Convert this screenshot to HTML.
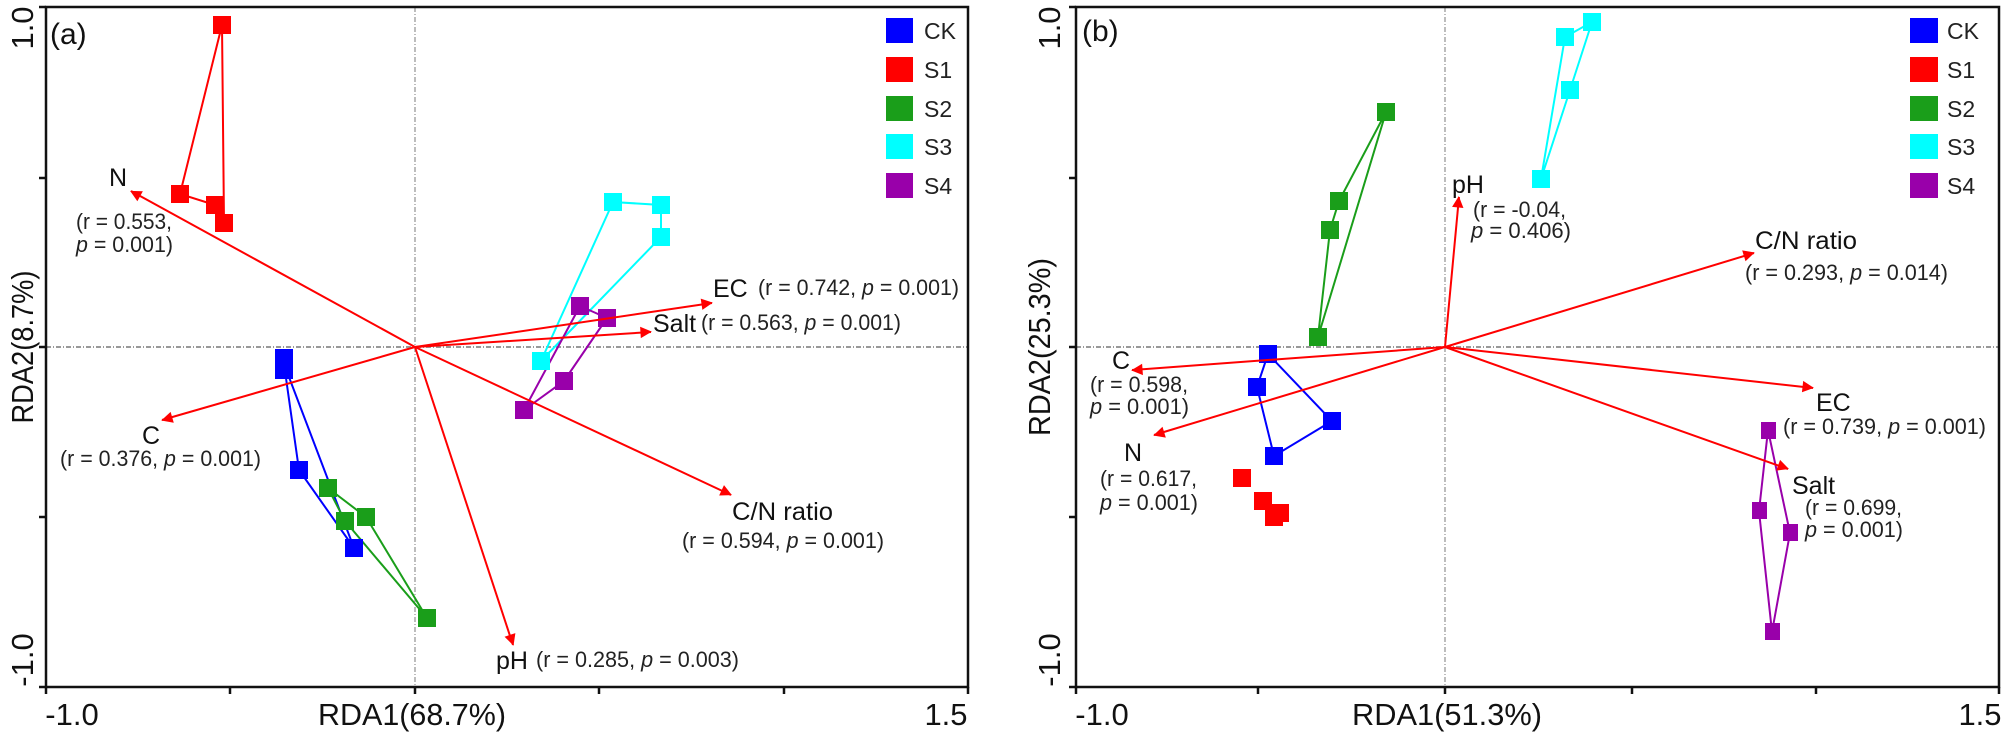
<!DOCTYPE html>
<html><head><meta charset="utf-8"><style>
html,body{margin:0;padding:0;background:#fff}
svg{display:block;font-family:"Liberation Sans",Arial,sans-serif}
.ann{font-size:22px;fill:#222}
.lab{font-size:25px;fill:#111}
.tick{font-size:31px;fill:#111}
.leg{font-size:23px;fill:#222}
</style></head><body>
<svg width="2007" height="734" viewBox="0 0 2007 734" xmlns="http://www.w3.org/2000/svg">
<defs>
<marker id="ah" viewBox="0 0 10 10" refX="9" refY="5" markerWidth="6" markerHeight="6" markerUnits="userSpaceOnUse" orient="auto" style="overflow:visible">
<path d="M0,0 L10,5 L0,10 z" fill="#f00" transform="scale(1.9) translate(-4.5,-2.6)"/>
</marker>
</defs>
<rect width="2007" height="734" fill="#fff"/>

<g>
<line x1="415" y1="7" x2="415" y2="687" stroke="#999" stroke-width="1.3" stroke-dasharray="5,2,1,2"/>
<line x1="46" y1="347" x2="968" y2="347" stroke="#999" stroke-width="2" stroke-dasharray="5,2,1,2"/>
<rect x="46" y="7" width="922" height="680" fill="none" stroke="#111" stroke-width="2.5"/>
<g stroke="#111" stroke-width="2.5">
<line x1="46" y1="687" x2="46" y2="694"/><line x1="230" y1="687" x2="230" y2="694"/><line x1="415" y1="687" x2="415" y2="694"/><line x1="599" y1="687" x2="599" y2="694"/><line x1="784" y1="687" x2="784" y2="694"/><line x1="968" y1="687" x2="968" y2="694"/>
<line x1="39" y1="7" x2="46" y2="7"/><line x1="39" y1="178" x2="46" y2="178"/><line x1="39" y1="347" x2="46" y2="347"/><line x1="39" y1="517" x2="46" y2="517"/><line x1="39" y1="687" x2="46" y2="687"/>
</g>
<text class="tick" x="72" y="725" text-anchor="middle">-1.0</text>
<text class="tick" x="946" y="725" text-anchor="middle">1.5</text>
<text class="tick" x="412" y="725" text-anchor="middle" textLength="188" lengthAdjust="spacingAndGlyphs">RDA1(68.7%)</text>
<text class="tick" transform="translate(33,347) rotate(-90)" text-anchor="middle" textLength="153" lengthAdjust="spacingAndGlyphs">RDA2(8.7%)</text>
<text class="tick" transform="translate(33,28) rotate(-90)" text-anchor="middle">1.0</text>
<text class="tick" transform="translate(33,660) rotate(-90)" text-anchor="middle">-1.0</text>
<text x="50" y="44" font-size="30" fill="#111">(a)</text>

<g fill="none" stroke-width="2">
<polyline stroke="#f00" points="222,25 180,194 215,205 224,223 222,25"/>
<polyline stroke="#00f" points="284,364 299,470 354,548 284,364"/>
<polyline stroke="#1a9e1a" points="328,488 366,517 427,618 345,521 328,488"/>
<polyline stroke="#0ff" points="613,202 661,205 661,237 541,361 613,202"/>
<polyline stroke="#90a" points="580,306 607,318 564,381 524,410 580,306"/>
</g>
<g>
<g fill="#f00"><rect x="213" y="16" width="18" height="18"/><rect x="171" y="185" width="18" height="18"/><rect x="206" y="196" width="18" height="18"/><rect x="215" y="214" width="18" height="18"/></g>
<g fill="#00f"><rect x="275" y="349" width="18" height="30"/><rect x="290" y="461" width="18" height="18"/><rect x="345" y="539" width="18" height="18"/></g>
<g fill="#1a9e1a"><rect x="319" y="479" width="18" height="18"/><rect x="357" y="508" width="18" height="18"/><rect x="336" y="512" width="18" height="18"/><rect x="418" y="609" width="18" height="18"/></g>
<g fill="#0ff"><rect x="604" y="193" width="18" height="18"/><rect x="652" y="196" width="18" height="18"/><rect x="652" y="228" width="18" height="18"/><rect x="532" y="352" width="18" height="18"/></g>
<g fill="#90a"><rect x="571" y="297" width="18" height="18"/><rect x="598" y="309" width="18" height="18"/><rect x="555" y="372" width="18" height="18"/><rect x="515" y="401" width="18" height="18"/></g>
</g>
<g stroke="#f00" stroke-width="2" marker-end="url(#ah)">
<line x1="415" y1="347" x2="131" y2="191"/>
<line x1="415" y1="347" x2="162" y2="420"/>
<line x1="415" y1="347" x2="712" y2="303"/>
<line x1="415" y1="347" x2="651" y2="332"/>
<line x1="415" y1="347" x2="731" y2="495"/>
<line x1="415" y1="347" x2="513" y2="645"/>
</g>
<text class="lab" x="118" y="186" text-anchor="middle">N</text>
<text class="ann" x="76" y="229" textLength="96" lengthAdjust="spacingAndGlyphs">(r = 0.553,</text>
<text class="ann" x="76" y="252" textLength="97" lengthAdjust="spacingAndGlyphs"><tspan font-style="italic">p</tspan> = 0.001)</text>
<text class="lab" x="151" y="444" text-anchor="middle">C</text>
<text class="ann" x="60" y="466" textLength="201" lengthAdjust="spacingAndGlyphs">(r = 0.376, <tspan font-style="italic">p</tspan> = 0.001)</text>
<text class="lab" x="713" y="297">EC</text>
<text class="ann" x="758" y="295" textLength="201" lengthAdjust="spacingAndGlyphs">(r = 0.742, <tspan font-style="italic">p</tspan> = 0.001)</text>
<text class="lab" x="653" y="332">Salt</text>
<text class="ann" x="701" y="330" textLength="200" lengthAdjust="spacingAndGlyphs">(r = 0.563, <tspan font-style="italic">p</tspan> = 0.001)</text>
<text class="lab" x="732" y="520" textLength="101" lengthAdjust="spacingAndGlyphs">C/N ratio</text>
<text class="ann" x="682" y="548" textLength="202" lengthAdjust="spacingAndGlyphs">(r = 0.594, <tspan font-style="italic">p</tspan> = 0.001)</text>
<text class="lab" x="496" y="669">pH</text>
<text class="ann" x="536" y="667" textLength="203" lengthAdjust="spacingAndGlyphs">(r = 0.285, <tspan font-style="italic">p</tspan> = 0.003)</text>
<g>
<rect x="886" y="18" width="27" height="25" fill="#00f"/><text class="leg" x="924" y="39">CK</text>
<rect x="886" y="57" width="27" height="25" fill="#f00"/><text class="leg" x="924" y="78">S1</text>
<rect x="886" y="96" width="27" height="25" fill="#1a9e1a"/><text class="leg" x="924" y="117">S2</text>
<rect x="886" y="134" width="27" height="25" fill="#0ff"/><text class="leg" x="924" y="155">S3</text>
<rect x="886" y="173" width="27" height="25" fill="#90a"/><text class="leg" x="924" y="194">S4</text>
</g>
</g>

<g>
<line x1="1445" y1="7" x2="1445" y2="687" stroke="#999" stroke-width="1.3" stroke-dasharray="5,2,1,2"/>
<line x1="1076" y1="347" x2="1999" y2="347" stroke="#999" stroke-width="2" stroke-dasharray="5,2,1,2"/>
<rect x="1076" y="7" width="923" height="680" fill="none" stroke="#111" stroke-width="2.5"/>
<g stroke="#111" stroke-width="2.5">
<line x1="1076" y1="687" x2="1076" y2="694"/><line x1="1258" y1="687" x2="1258" y2="694"/><line x1="1445" y1="687" x2="1445" y2="694"/><line x1="1632" y1="687" x2="1632" y2="694"/><line x1="1816" y1="687" x2="1816" y2="694"/><line x1="1999" y1="687" x2="1999" y2="694"/>
<line x1="1069" y1="7" x2="1076" y2="7"/><line x1="1069" y1="178" x2="1076" y2="178"/><line x1="1069" y1="347" x2="1076" y2="347"/><line x1="1069" y1="517" x2="1076" y2="517"/><line x1="1069" y1="687" x2="1076" y2="687"/>
</g>
<text class="tick" x="1102" y="725" text-anchor="middle">-1.0</text>
<text class="tick" x="1980" y="725" text-anchor="middle">1.5</text>
<text class="tick" x="1447" y="725" text-anchor="middle" textLength="190" lengthAdjust="spacingAndGlyphs">RDA1(51.3%)</text>
<text class="tick" transform="translate(1050,347) rotate(-90)" text-anchor="middle" textLength="178" lengthAdjust="spacingAndGlyphs">RDA2(25.3%)</text>
<text class="tick" transform="translate(1060,28) rotate(-90)" text-anchor="middle">1.0</text>
<text class="tick" transform="translate(1060,660) rotate(-90)" text-anchor="middle">-1.0</text>
<text x="1082" y="41" font-size="30" fill="#111">(b)</text>

<g fill="none" stroke-width="2">
<polyline stroke="#0ff" points="1592,22 1570,90 1541,179 1565,37 1592,22"/>
<polyline stroke="#1a9e1a" points="1386,112 1339,201 1330,230 1318,337 1386,112"/>
<polyline stroke="#00f" points="1268,354 1332,421 1274,456 1257,387 1268,354"/>
<polyline stroke="#90a" points="1768,430 1790,533 1772,632 1759,511 1768,430"/>
</g>
<g>
<g fill="#0ff"><rect x="1583" y="13" width="18" height="18"/><rect x="1556" y="28" width="18" height="18"/><rect x="1561" y="81" width="18" height="18"/><rect x="1532" y="170" width="18" height="18"/></g>
<g fill="#1a9e1a"><rect x="1377" y="103" width="18" height="18"/><rect x="1330" y="192" width="18" height="18"/><rect x="1321" y="221" width="18" height="18"/><rect x="1309" y="328" width="18" height="18"/></g>
<g fill="#00f"><rect x="1259" y="345" width="18" height="18"/><rect x="1248" y="378" width="18" height="18"/><rect x="1323" y="412" width="18" height="18"/><rect x="1265" y="447" width="18" height="18"/></g>
<g fill="#f00"><rect x="1233" y="469" width="18" height="18"/><rect x="1254" y="492" width="18" height="18"/><rect x="1265" y="508" width="18" height="18"/><rect x="1271" y="504" width="18" height="18"/></g>
<g fill="#90a"><rect x="1761" y="422" width="15" height="17"/><rect x="1752" y="502" width="15" height="17"/><rect x="1783" y="524" width="15" height="17"/><rect x="1765" y="623" width="15" height="17"/></g>
</g>
<g stroke="#f00" stroke-width="2" marker-end="url(#ah)">
<line x1="1445" y1="347" x2="1459" y2="197"/>
<line x1="1445" y1="347" x2="1754" y2="253"/>
<line x1="1445" y1="347" x2="1813" y2="388"/>
<line x1="1445" y1="347" x2="1788" y2="469"/>
<line x1="1445" y1="347" x2="1132" y2="370"/>
<line x1="1445" y1="347" x2="1154" y2="435"/>
</g>
<text class="lab" x="1452" y="193">pH</text>
<text class="ann" x="1473" y="217" textLength="93" lengthAdjust="spacingAndGlyphs">(r = -0.04,</text>
<text class="ann" x="1471" y="238" textLength="100" lengthAdjust="spacingAndGlyphs"><tspan font-style="italic">p</tspan> = 0.406)</text>
<text class="lab" x="1755" y="249" textLength="102" lengthAdjust="spacingAndGlyphs">C/N ratio</text>
<text class="ann" x="1745" y="280" textLength="203" lengthAdjust="spacingAndGlyphs">(r = 0.293, <tspan font-style="italic">p</tspan> = 0.014)</text>
<text class="lab" x="1816" y="411">EC</text>
<text class="ann" x="1783" y="434" textLength="203" lengthAdjust="spacingAndGlyphs">(r = 0.739, <tspan font-style="italic">p</tspan> = 0.001)</text>
<text class="lab" x="1792" y="494">Salt</text>
<text class="ann" x="1805" y="515" textLength="97" lengthAdjust="spacingAndGlyphs">(r = 0.699,</text>
<text class="ann" x="1805" y="537" textLength="98" lengthAdjust="spacingAndGlyphs"><tspan font-style="italic">p</tspan> = 0.001)</text>
<text class="lab" x="1112" y="369">C</text>
<text class="ann" x="1090" y="392" textLength="98" lengthAdjust="spacingAndGlyphs">(r = 0.598,</text>
<text class="ann" x="1090" y="414" textLength="99" lengthAdjust="spacingAndGlyphs"><tspan font-style="italic">p</tspan> = 0.001)</text>
<text class="lab" x="1124" y="461">N</text>
<text class="ann" x="1100" y="486" textLength="97" lengthAdjust="spacingAndGlyphs">(r = 0.617,</text>
<text class="ann" x="1100" y="510" textLength="98" lengthAdjust="spacingAndGlyphs"><tspan font-style="italic">p</tspan> = 0.001)</text>
<g>
<rect x="1910" y="18" width="28" height="25" fill="#00f"/><text class="leg" x="1947" y="39">CK</text>
<rect x="1910" y="57" width="28" height="25" fill="#f00"/><text class="leg" x="1947" y="78">S1</text>
<rect x="1910" y="96" width="28" height="25" fill="#1a9e1a"/><text class="leg" x="1947" y="117">S2</text>
<rect x="1910" y="134" width="28" height="25" fill="#0ff"/><text class="leg" x="1947" y="155">S3</text>
<rect x="1910" y="173" width="28" height="25" fill="#90a"/><text class="leg" x="1947" y="194">S4</text>
</g>
</g>
</svg>
</body></html>
